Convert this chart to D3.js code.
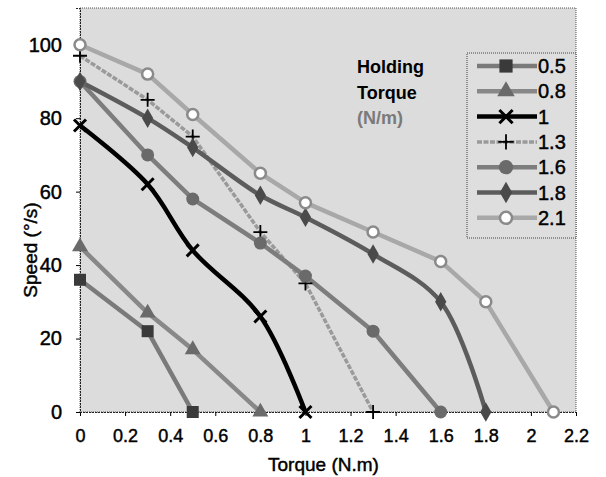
<!DOCTYPE html>
<html>
<head>
<meta charset="utf-8">
<script src="https://cdn.jsdelivr.net/npm/d3@7"></script>
<style>
  body { margin: 0; background: #fff; }
  text { font-family: "Liberation Sans", Arial, sans-serif; }
  .heavy { stroke: #000; stroke-width: 0.45px; }
</style>
</head>
<body>
<div class="chart"></div>
<script>
// holding torque series
const torque05 = [[0, 36], [0.3, 22], [0.5, 0]];
const torque08 = [[0, 45], [0.3, 27], [0.5, 17], [0.8, 0]];
const torque10 = [[0, 78], [0.3, 62], [0.5, 44], [0.8, 26], [1, 0]];
const torque13 = [[0, 97], [0.3, 85], [0.5, 75], [0.8, 49], [1, 35], [1.3, 0]];
const torque16 = [[0, 90], [0.3, 70], [0.5, 58], [0.8, 46], [1, 37], [1.3, 22], [1.6, 0]];
const torque18 = [[0, 90], [0.3, 80], [0.5, 72], [0.8, 59], [1, 53], [1.3, 43], [1.6, 30], [1.8, 0]];
const torque21 = [[0, 100], [0.3, 92], [0.5, 81], [0.8, 65], [1, 57], [1.3, 49], [1.6, 41], [1.8, 30], [2.1, 0]];

const seriesNames = ["0.5", "0.8", "1", "1.3", "1.6", "1.8", "2.1"];
const xTicks = [0, 0.2, 0.4, 0.6, 0.8, 1, 1.2, 1.4, 1.6, 1.8, 2, 2.2];
const yTicks = [0, 20, 40, 60, 80, 100];

const series = [
  {name: "0.5", pts: torque05, color: "#7a7a7a", mark: "square", mfill: "#3a3a3a"},
  {name: "0.8", pts: torque08, color: "#888888", mark: "triangle", mfill: "#6a6a6a"},
  {name: "1", pts: torque10, color: "#000000", mark: "cross", mfill: "#000", smooth: true},
  {name: "1.3", pts: torque13, color: "#9a9a9a", mark: "plus", mfill: "#000", dash: "5,1.5"},
  {name: "1.6", pts: torque16, color: "#7d7d7d", mark: "circle", mfill: "#6a6a6a"},
  {name: "1.8", pts: torque18, color: "#5c5c5c", mark: "diamond", mfill: "#4a4a4a", smooth: true},
  {name: "2.1", pts: torque21, color: "#a8a8a8", mark: "ocircle", mfill: "#fff"}
];

const width = 606, height = 477;
const mLeft = 80, mRight = 576, mTop = 8, mBottom = 412;

const svg = d3.select(".chart").append("svg")
  .attr("width", width)
  .attr("height", height);

const x = d3.scaleLinear().domain([0, 2.2]).range([mLeft, mRight]);
const y = d3.scaleLinear().domain([0, 110]).range([mBottom, mTop]);

// plot background
svg.append("rect")
  .attr("x", mLeft).attr("y", mTop)
  .attr("width", mRight - mLeft).attr("height", mBottom - mTop)
  .attr("fill", "#dcdcdc")
  .attr("stroke", "#555")
  .attr("stroke-dasharray", "1,1");

// axes
const xAxis = svg.append("g")
  .attr("transform", "translate(0," + mBottom + ")")
  .call(d3.axisBottom(x).tickValues(xTicks).tickSize(4).tickFormat(d3.format("")));
xAxis.select(".domain").attr("stroke", "#222").attr("stroke-dasharray", "2,1");
xAxis.selectAll("text").attr("font-size", 18).attr("dy", "1.25em").attr("fill", "#000").attr("class", "heavy");

const yAxis = svg.append("g")
  .attr("transform", "translate(" + mLeft + ",0)")
  .call(d3.axisLeft(y).tickValues(yTicks).tickSize(4));
yAxis.select(".domain").attr("stroke", "#222").attr("stroke-dasharray", "2,1");
yAxis.selectAll("text").attr("font-size", 20).attr("dx", "-0.55em").attr("fill", "#000").attr("class", "heavy");

svg.append("text")
  .attr("x", x(1.08)).attr("y", 471)
  .attr("text-anchor", "middle")
  .attr("font-size", 19)
  .attr("class", "heavy")
  .text("Torque (N.m)");

svg.append("text")
  .attr("transform", "translate(37,250) rotate(-90)")
  .attr("text-anchor", "middle")
  .attr("font-size", 19)
  .attr("class", "heavy")
  .text("Speed (°/s)");

// marker drawing
function drawMark(g, s, cx, cy, scale) {
  scale = scale || 1;
  if (s.mark === "square") {
    g.append("rect").attr("x", cx - 6 * scale).attr("y", cy - 6 * scale)
      .attr("width", 12 * scale).attr("height", 12 * scale).attr("fill", s.mfill);
  } else if (s.mark === "triangle") {
    g.append("path").attr("d", d3.symbol(d3.symbolTriangle, 110 * scale * scale)())
      .attr("transform", "translate(" + cx + "," + cy + ")").attr("fill", s.mfill);
  } else if (s.mark === "cross") {
    const r = 6 * scale;
    g.append("path").attr("d", "M" + (cx - r) + "," + (cy - r) + "L" + (cx + r) + "," + (cy + r) +
      "M" + (cx - r) + "," + (cy + r) + "L" + (cx + r) + "," + (cy - r))
      .attr("stroke", "#000").attr("stroke-width", 3);
  } else if (s.mark === "plus") {
    const r = 7 * scale;
    g.append("path").attr("d", "M" + (cx - r) + "," + cy + "L" + (cx + r) + "," + cy +
      "M" + cx + "," + (cy - r) + "L" + cx + "," + (cy + r))
      .attr("stroke", "#000").attr("stroke-width", 1.8);
  } else if (s.mark === "circle") {
    g.append("circle").attr("cx", cx).attr("cy", cy).attr("r", 6.5 * scale).attr("fill", s.mfill);
  } else if (s.mark === "diamond") {
    g.append("path").attr("d", d3.symbol(d3.symbolDiamond, 110 * scale * scale)())
      .attr("transform", "translate(" + cx + "," + cy + ")").attr("fill", s.mfill);
  } else if (s.mark === "ocircle") {
    g.append("circle").attr("cx", cx).attr("cy", cy).attr("r", 5.5 * scale)
      .attr("fill", "#fff").attr("stroke", "#8a8a8a").attr("stroke-width", 2.5);
  }
}

// lines
series.forEach(function(s) {
  const line = d3.line()
    .x(function(d) { return x(d[0]); })
    .y(function(d) { return y(d[1]); })
    .curve(s.smooth ? d3.curveCatmullRom.alpha(0.5) : d3.curveLinear);
  svg.append("path")
    .datum(s.pts)
    .attr("d", line)
    .attr("fill", "none")
    .attr("stroke", s.color)
    .attr("stroke-width", s.name === "1.3" ? 3.5 : 4.5)
    .attr("stroke-dasharray", s.dash || null)
    .attr("stroke-linejoin", "round");
});

series.forEach(function(s) {
  const g = svg.append("g");
  s.pts.forEach(function(d) {
    drawMark(g, s, x(d[0]), y(d[1]));
  });
});

// annotation
const note = svg.append("text").attr("x", 357).attr("font-size", 18).attr("font-weight", "bold");
note.append("tspan").attr("x", 357).attr("y", 73).text("Holding");
note.append("tspan").attr("x", 357).attr("y", 99).text("Torque");
note.append("tspan").attr("x", 357).attr("y", 124).attr("fill", "#7a7a7a").text("(N/m)");

// legend
const legend = svg.append("g");
legend.append("rect")
  .attr("x", 467).attr("y", 53)
  .attr("width", mRight - 467).attr("height", 185)
  .attr("fill", "#dedede")
  .attr("stroke", "#444")
  .attr("stroke-dasharray", "1,1");

series.forEach(function(s, i) {
  const ly = 66 + i * 25.3;
  legend.append("line")
    .attr("x1", 477).attr("x2", 537)
    .attr("y1", ly).attr("y2", ly)
    .attr("stroke", s.color)
    .attr("stroke-width", s.name === "1.3" ? 3.5 : 4.5)
    .attr("stroke-dasharray", s.dash || null);
  drawMark(legend, s, 506, ly, 1.1);
  legend.append("text")
    .attr("x", 538).attr("y", ly + 7)
    .attr("font-size", 20)
    .attr("class", "heavy")
    .text(seriesNames[i]);
});
</script>
</body>
</html>
